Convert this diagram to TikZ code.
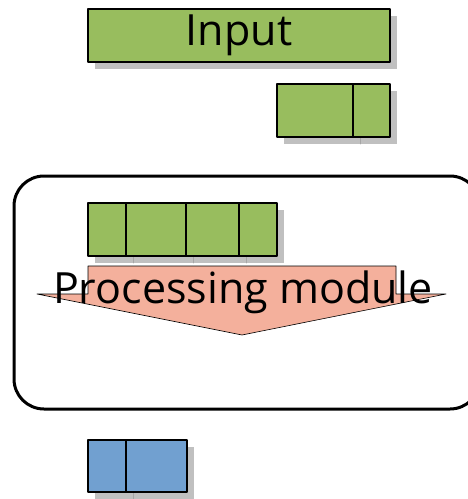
\documentclass[tikz,border=0pt]{standalone}
\usepackage{fontspec}
\setmainfont{Open Sans}
\definecolor{cellgreen}{HTML}{98BD5E}
\definecolor{cellblue}{HTML}{71A0D0}
\definecolor{arrowpink}{HTML}{F4B09C}
\definecolor{shade}{HTML}{C0C0C0}
\tikzset{
  cell/.style={draw=black, line width=1.2pt},
  shadow/.style={fill=shade},
}
\begin{document}
\begin{tikzpicture}[x=1pt, y=-1pt, line join=round, line cap=round,
  font=\fontsize{43}{44}\selectfont]
  \useasboundingbox (0,0) rectangle (468,499);
  \def\o{7}
  % shadows of the cell rows
  \foreach \xa/\ya/\xb/\yb in {88/9/390/62, 277/84/390/137, 88/203/277/256, 88/440/187/492}
    \fill[shadow] (\xa+\o,\ya+\o) rectangle (\xb+\o,\yb+\o);
  \foreach \x/\y in {353/137, 126/256, 186/256, 239/256, 126/492}
    \draw[gray!70, line width=0.6pt] (\x+\o,\y) -- (\x+\o,\y+\o);
  % processing module frame
  \draw[line width=3pt, rounded corners=30pt] (14,176) rectangle (480,409);
  % input
  \draw[cell, fill=cellgreen] (88,9) rectangle (390,62);
  \node (input) at (239,35) {Input};
  \draw[cell, fill=cellgreen] (277,84) rectangle (390,137) (353,84) -- (353,137);
  % cells inside the module
  \draw[cell, fill=cellgreen] (88,203) rectangle (277,256);
  \foreach \x in {126,186,239}
    \draw[cell] (\x,203) -- (\x,256);
  % arrow
  \path (88,266) coordinate (A)
        (396,266) coordinate (B)
        (396,294) coordinate (C)
        (446,294) coordinate (D)
        (242,335) coordinate (T)
        (37,294) coordinate (E)
        (88,294) coordinate (F);
  \draw[fill=arrowpink, line width=0.6pt] (A)--(B)--(C)--(D)--(T)--(E)--(F)--cycle;
  \node (proc) at (243,292) {Processing module};
  % output
  \draw[cell, fill=cellblue] (88,440) rectangle (187,492) (126,440) -- (126,492);
\end{tikzpicture}
\end{document}
